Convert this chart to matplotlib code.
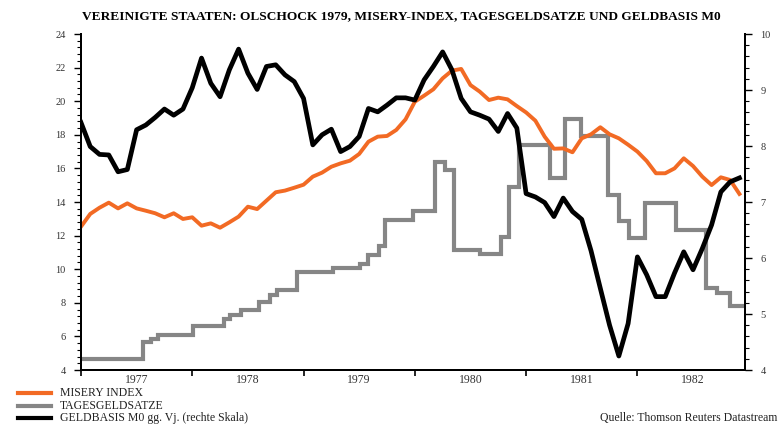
import matplotlib
matplotlib.use("Agg")
import matplotlib.pyplot as plt
from matplotlib.ticker import MultipleLocator, FixedLocator, NullFormatter
import numpy as np

# ---- data (monthly, Jan 1977 = 0) ----
years = ["1977", "1978", "1979", "1980", "1981", "1982"]

misery = [12.53, 13.29, 13.66, 13.96, 13.62, 13.92, 13.62, 13.48, 13.33, 13.09, 13.33, 12.99,
          13.09, 12.59, 12.73, 12.47, 12.79, 13.13, 13.72, 13.58, 14.08, 14.58, 14.68, 14.85,
          15.03, 15.51, 15.75, 16.10, 16.30, 16.46, 16.86, 17.59, 17.89, 17.93, 18.29, 18.92,
          19.97, 20.33, 20.71, 21.36, 21.82, 21.92, 20.96, 20.57, 20.07, 20.21, 20.11, 19.71,
          19.33, 18.84, 17.89, 17.17, 17.19, 16.96, 17.79, 18.03, 18.45, 18.03, 17.79, 17.41,
          17.00, 16.44, 15.71, 15.71, 16.00, 16.60, 16.14, 15.51, 15.01, 15.47, 15.31, 14.48]

geldbasis = [8.42, 7.99, 7.85, 7.84, 7.54, 7.58, 8.29, 8.375, 8.51, 8.66, 8.55, 8.66,
             9.04, 9.57, 9.12, 8.88, 9.36, 9.73, 9.30, 9.01, 9.42, 9.45, 9.27, 9.15,
             8.85, 8.02, 8.20, 8.30, 7.90, 7.99, 8.17, 8.67, 8.61, 8.73, 8.86, 8.86,
             8.82, 9.18, 9.42, 9.68, 9.36, 8.85, 8.61, 8.55, 8.48, 8.26, 8.58, 8.32,
             7.15, 7.09, 6.99, 6.74, 7.07, 6.83, 6.69, 6.13, 5.46, 4.80, 4.25, 4.83,
             6.02, 5.70, 5.31, 5.31, 5.73, 6.11, 5.79, 6.17, 6.59, 7.18, 7.36, 7.43]

# Tagesgeldsatz: change dates (month index) and new levels
tg_months = [0, 6.7, 7.6, 8.3, 12.05, 15.4, 16.1, 17.3, 19.2, 20.4, 21.1, 23.3, 27.2, 30.1,
             30.9, 32.1, 32.8, 35.75, 38.2, 39.3, 40.2, 43.0, 45.3, 46.2, 47.2, 50.6, 52.2,
             53.9, 56.8, 58.0, 59.1, 60.8, 64.2, 67.4, 68.6, 70.0, 71.6]
tg_levels = [4.65, 5.69, 5.83, 6.10, 6.60, 7.05, 7.28, 7.55, 8.02, 8.48, 8.78, 9.85, 10.09, 10.33,
             10.85, 11.37, 12.90, 13.47, 16.40, 15.90, 11.14, 10.90, 11.89, 14.91, 17.39, 15.41, 18.92,
             17.93, 14.42, 12.89, 11.84, 13.92, 12.33, 8.86, 8.56, 7.81, 7.81]

labels = ["MISERY INDEX", "TAGESGELDSATZE", "GELDBASIS M0 gg. Vj. (rechte Skala)"]
colors = ["#F26A24", "#868686", "#000000"]

plt.rcParams['font.family'] = ['Liberation Serif', 'DejaVu Serif']

fig = plt.figure(figsize=(7.8, 4.25), dpi=100)
ax = fig.add_axes([0.1038, 0.1294, 0.8513, 0.7906])
ax2 = ax.twinx()

months = np.arange(len(misery))
ax.step(tg_months, tg_levels, where='post', color=colors[1], lw=3.0, solid_joinstyle='miter', zorder=2)
ax.plot(months, misery, color=colors[0], lw=2.8, zorder=3)
ax2.plot(months, geldbasis, color=colors[2], lw=3.4, zorder=4)

ax.set_xlim(0, 71.6)
ax.set_ylim(4, 24)
ax2.set_ylim(4, 10)

for a in (ax, ax2):
    a.spines['top'].set_visible(False)
    for s in ('left', 'right', 'bottom'):
        a.spines[s].set_linewidth(1.4)

ax.yaxis.set_major_locator(MultipleLocator(2))
ax.yaxis.set_minor_locator(MultipleLocator(0.4))
ax2.yaxis.set_major_locator(MultipleLocator(1))
ax2.yaxis.set_minor_locator(MultipleLocator(0.2))

ax.xaxis.set_major_locator(FixedLocator([12 * i for i in range(7)]))
ax.xaxis.set_major_formatter(NullFormatter())
ax.xaxis.set_minor_locator(FixedLocator([12 * i + 6 for i in range(6)]))
ax.set_xticklabels(years, minor=True)

ax.tick_params(axis='x', which='major', length=4, width=1.2, direction='out')
ax.tick_params(axis='x', which='minor', length=0, labelsize=8.5, pad=3)
ax.tick_params(axis='y', which='major', length=5, width=1.0, labelsize=7.5, pad=6, labelcolor='#333333')
ax.tick_params(axis='y', which='minor', length=3, width=0.8)
ax2.tick_params(axis='y', which='major', length=5, width=1.0, labelsize=7.5, pad=6, labelcolor='#333333')
ax2.tick_params(axis='y', which='minor', length=3, width=0.8)
for t in ax.get_xticklabels(minor=True):
    t.set_color('#333333')

fig.text(0.514, 0.962, "VEREINIGTE STAATEN: OLSCHOCK 1979, MISERY-INDEX, TAGESGELDSATZE UND GELDBASIS M0",
         ha='center', va='center', fontsize=9.6, fontweight='bold')

# legend
ys = [1 - 393 / 425, 1 - 406 / 425, 1 - 418 / 425]
for lab, col, yy in zip(labels, colors, ys):
    fig.add_artist(plt.Line2D([0.023, 0.066], [yy, yy], color=col, lw=3.0, transform=fig.transFigure))
    fig.text(0.077, yy, lab, ha='left', va='center', fontsize=8.5, color='#222222')

fig.text(0.997, ys[2], "Quelle: Thomson Reuters Datastream", ha='right', va='center', fontsize=8.5,
         color='#222222')

fig.savefig("out.png", dpi=100)
